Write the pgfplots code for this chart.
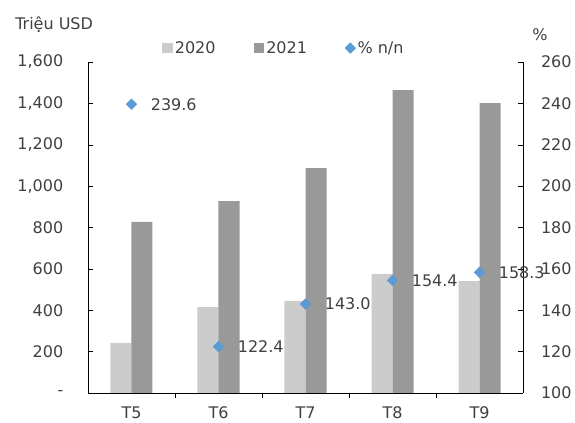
\documentclass[border=0pt]{standalone}
\usepackage{pgfplots}
\pgfplotsset{compat=1.18}
\usepackage{fontspec}
\setmainfont{DejaVu Sans}
\definecolor{txt}{HTML}{404040}
\definecolor{c20}{HTML}{CCCCCC}
\definecolor{c21}{HTML}{999999}
\definecolor{cpct}{HTML}{5B9BD5}
\pgfplotsset{/pgf/number format/assume math mode=true,
  diamondlegend/.style={legend image code/.code={\draw[##1] plot coordinates {(4pt,0pt)};}},
  squarelegend/.style={legend image code/.code={\fill[##1] (0pt,-4pt) rectangle (8pt,4pt);}}}
\begin{document}
\begin{tikzpicture}[font=\fontsize{12}{14}\selectfont]
\path[use as bounding box, clip] (0,0) rectangle (431.25pt,317.25pt);
\begin{axis}[
  at={(66pt,22.5pt)}, anchor=south west,
  scale only axis, width=326.25pt, height=248.25pt,
  xmin=-0.5, xmax=4.5, ymin=0, ymax=1600,
  axis y line*=left, axis x line*=bottom,
  axis line style={black,-},
  ybar=0pt, bar width=15.75pt,
  xtick={0,...,4}, xticklabels={T5,T6,T7,T8,T9},
  minor xtick={0.5,1.5,2.5,3.5},
  tick style={black},
  major tick length=4pt, minor tick length=4pt,
  major x tick style={draw=none},
  ytick={0,200,...,1600},
  yticklabels={{-\hspace{18pt}},200,400,600,800,{1,000},{1,200},{1,400},{1,600}},
  yticklabel style={xshift=-15pt, text=txt},
  xticklabel style={inner sep=0pt, yshift=-6pt, text=txt},
]
\addplot[fill=c20, draw=none] coordinates {(0,242) (1,415) (2,444) (3,575) (4,541)};
\addplot[fill=c21, draw=none] coordinates {(0,827) (1,928) (2,1087) (3,1464) (4,1401)};
\end{axis}
\begin{axis}[
  at={(66pt,22.5pt)}, anchor=south west,
  scale only axis, width=326.25pt, height=248.25pt,
  xmin=-0.5, xmax=4.5, ymin=100, ymax=260,
  axis y line*=right, axis x line=none,
  axis line style={black,-},
  tick style={black}, major tick length=4pt,
  ytick={100,120,...,260},
  yticklabel style={xshift=10pt, text=txt},
  clip=false,
  legend style={at={(0.170,1.042)}, anchor=west, draw=none, fill=none,
    inner sep=0pt, text=txt, cells={anchor=west},
    nodes={inner sep=1.5pt},
    /tikz/every even column/.append style={column sep=27pt}},
  legend columns=-1,
]
\addlegendimage{squarelegend, fill=c20, draw=none}
\addlegendentry{2020}
\addlegendimage{squarelegend, fill=c21, draw=none}
\addlegendentry{2021}
\addplot[only marks, mark=square*, mark size=2.8pt,
  mark options={rotate=45, fill=cpct, draw=cpct},
  diamondlegend,
  nodes near coords,
  nodes near coords style={anchor=west, xshift=11pt, text=txt,
    /pgf/number format/.cd, fixed, fixed zerofill, precision=1}]
  coordinates {(0,239.6) (1,122.4) (2,143.0) (3,154.4) (4,158.3)};
\addlegendentry{\% n/n}
\end{axis}
\node[anchor=west, inner sep=0pt, text=txt] at (11.25pt,299pt) {Triệu USD};
\node[inner sep=0pt, text=txt] at (405pt,291pt) {\%};
\end{tikzpicture}
\end{document}
